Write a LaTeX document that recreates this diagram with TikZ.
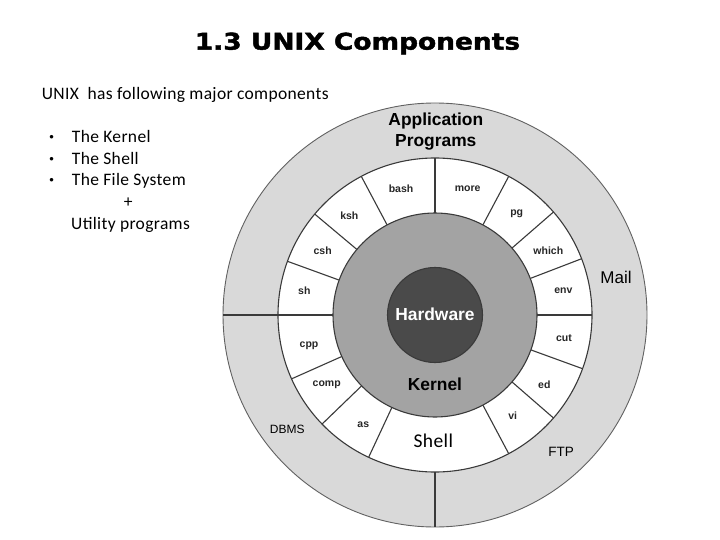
\documentclass[tikz,border=0pt]{standalone}
\usepackage{fontspec}
\setmainfont{Carlito}[LetterSpace=2]
\newfontfamily\arialf{Liberation Sans}
\newfontfamily\titlef{DejaVu Sans Bold}[FakeBold=1.6]
\definecolor{ringgrey}{HTML}{D9D9D9}
\definecolor{kerngrey}{HTML}{A3A3A3}
\definecolor{hwgrey}{HTML}{4A4A4A}
\definecolor{edge}{HTML}{3A3A3A}
\begin{document}
\begin{tikzpicture}[x=1pt,y=-1pt,
  edgeline/.style={draw=edge,line width=1.1pt},
  body/.style={font=\fontsize{17.5}{21}\selectfont,anchor=base west,inner sep=0pt},
  bul/.style={font=\arialf\fontsize{13}{15}\selectfont,anchor=base,inner sep=0pt},
  util/.style={font=\arialf\bfseries\fontsize{10.5}{12}\selectfont,text=black!85,inner sep=0pt},
  biglbl/.style={font=\arialf\bfseries\fontsize{17.4}{20.7}\selectfont,inner sep=0pt,align=center}]
\useasboundingbox (0,0) rectangle (720,540);
\fill[white] (0,0) rectangle (720,540);
% title
\node[font=\titlef\fontsize{23}{26}\selectfont,xscale=1.15,inner sep=0pt] (title) at (357.5,43.5) {1.3 UNIX Components};
% left text
\node[body] (intro) at (41.7,99.3) {UNIX\ \ has following major components};
\node[bul] (b1) at (51.7,141.5) {\textbullet};
\node[body] (t1) at (71.7,142.7) {The Kernel};
\node[bul] (b2) at (51.7,163.1) {\textbullet};
\node[body] (t2) at (71.7,164.3) {The Shell};
\node[bul] (b3) at (51.7,184.7) {\textbullet};
\node[body] (t3) at (71.7,185.9) {The File System};
\node[body,anchor=base] (plus) at (128.3,207.5) {+};
\node[body] (t4) at (71,229.1) {Utility programs};
% rings
\coordinate (C) at (435,315);
\fill[ringgrey] (C) circle[radius=212];
\draw[draw=edge!80,line width=0.9pt] (C) circle[radius=212];
\fill[white] (C) circle[radius=157];
\draw[edgeline] (C) circle[radius=157];
\begin{scope}[shift={(C)}]
  \draw[edgeline] (180:102pt) -- (180:212pt);
  \draw[edgeline] (270:157pt) -- (270:212pt);
  \foreach \a in {0,21,41,62,90,118,140,160,204,224,245,298,319,340}
    \draw[edgeline] (\a:102pt) -- (\a:157pt);
\end{scope}
\fill[kerngrey] (C) circle[radius=102];
\draw[edgeline] (C) circle[radius=102];
\fill[hwgrey] (C) circle[radius=47.5];
\draw[edgeline] (C) circle[radius=47.5];
% labels
\node[biglbl] (app) at (435.8,131.5) {Application\\Programs};
\node[font=\arialf\fontsize{17}{20}\selectfont,inner sep=0pt] (mail) at (616,277.7) {Mail};
\node[font=\arialf\fontsize{12}{14}\selectfont,inner sep=0pt] (dbms) at (287.3,429.3) {DBMS};
\node[font=\arialf\fontsize{13.5}{15}\selectfont,inner sep=0pt] (ftp) at (561,452.3) {FTP};
\node[font=\fontsize{19.5}{22}\selectfont,inner sep=0pt] (shell) at (433.3,440.7) {Shell};
\node[biglbl] (kernel) at (435,384.3) {Kernel};
\node[biglbl,text=white] (hw) at (435,314) {Hardware};
\node[util] (bash) at (401,188.3) {bash};
\node[util] (more) at (467.7,188.3) {more};
\node[util] (ksh) at (349.3,215.7) {ksh};
\node[util] (pg) at (516.7,213.3) {pg};
\node[util] (csh) at (322.7,251) {csh};
\node[util] (which) at (548.3,251) {which};
\node[util] (sh) at (304.3,291) {sh};
\node[util] (env) at (563.3,291) {env};
\node[util] (cpp) at (309,345.7) {cpp};
\node[util] (cut) at (564,338.3) {cut};
\node[util] (comp) at (326.7,385) {comp};
\node[util] (ed) at (544.3,385) {ed};
\node[util] (as) at (363.3,425) {as};
\node[util] (vi) at (512.7,416) {vi};
\end{tikzpicture}
\end{document}
